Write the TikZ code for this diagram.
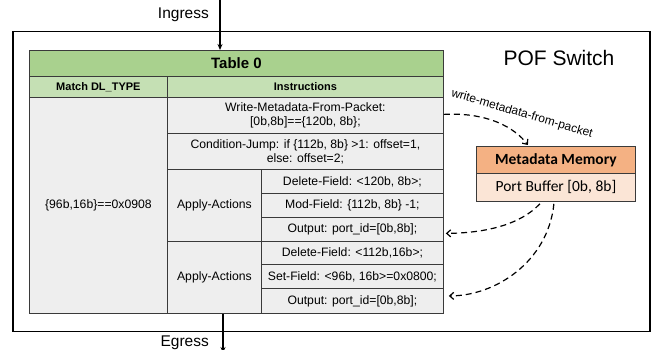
\documentclass[tikz,border=0pt]{standalone}
\usepackage{fontspec}
\setmainfont{Liberation Sans}
\newfontfamily\calibrifont{Carlito}
\usetikzlibrary{arrows.meta,calc}

\definecolor{titlegreen}{HTML}{A9D18E}
\definecolor{headgreen}{HTML}{C5E0B4}
\definecolor{cellgray}{HTML}{EEEEEE}
\definecolor{memorange}{HTML}{F4B183}
\definecolor{mempeach}{HTML}{FBE5D6}
\definecolor{gridline}{HTML}{3A3A3A}

\tikzset{
  cell/.style={draw=gridline, line width=0.8pt, fill=cellgray, anchor=north west,
    inner sep=0pt, align=center, font=\fontsize{12.2}{14}\selectfont},
  titlecell/.style={cell, fill=titlegreen, font=\fontsize{15}{17}\selectfont\bfseries},
  headcell/.style={cell, fill=headgreen, font=\fontsize{11}{13}\selectfont\bfseries},
  memhead/.style={draw=gridline, line width=0.8pt, fill=memorange, anchor=north west,
    inner sep=0pt, font=\calibrifont\fontsize{15.5}{18}\selectfont\bfseries},
  membody/.style={memhead, fill=mempeach, font=\calibrifont\fontsize{15.5}{18}\selectfont},
  flow/.style={line width=1.3pt, -{Stealth[length=6pt,width=5pt]}},
  metaflow/.style={line width=1.2pt, dash pattern=on 6pt off 4pt,
    -{Straight Barb[length=4pt,width=7pt]}},
  plain/.style={font=\fontsize{15.5}{18}\selectfont, inner sep=0pt}
}

\begin{document}
\begin{tikzpicture}[x=1pt, y=-1pt]
  \useasboundingbox (0,0) rectangle (657,350);

  % switch enclosure
  \node[draw, line width=1.5pt, minimum width=637pt, minimum height=300pt,
        anchor=north west, inner sep=0pt] (switch) at (12,31) {};
  \node[font=\fontsize{21}{24}\selectfont, inner sep=0pt] (switchlabel) at (559,58) {POF Switch};

  % flow table
  \node[titlecell, minimum width=414pt, minimum height=26pt] (title) at (29,50) {Table 0};
  \node[headcell, minimum width=138pt, minimum height=21pt] (matchhead) at (29,76) {Match DL\_TYPE};
  \node[headcell, minimum width=276pt, minimum height=21pt] (insthead) at (167,76) {Instructions};
  \node[cell, minimum width=138pt, minimum height=216pt] (match) at (29,97) {\{96b,16b\}==0x0908};

  \node[cell, minimum width=276pt, minimum height=36pt] (write) at (167,97)
    {Write-Metadata-From-Packet:\\ {[0b,8b]}==\{120b, 8b\};};
  \node[cell, minimum width=276pt, minimum height=36pt] (cond) at (167,133)
    {Condition-Jump: if \{112b, 8b\} >1: offset=1,\\ else: offset=2;};

  \node[cell, minimum width=94pt, minimum height=72pt] (apply1) at (167,169) {Apply-Actions};
  \node[cell, minimum width=182pt, minimum height=24pt] (del1) at (261,169) {Delete-Field: <120b, 8b>;};
  \node[cell, minimum width=182pt, minimum height=24pt] (mod1) at (261,193) {Mod-Field: \{112b, 8b\} -1;};
  \node[cell, minimum width=182pt, minimum height=24pt] (out1) at (261,217) {Output: port\_id=[0b,8b];};

  \node[cell, minimum width=94pt, minimum height=72pt] (apply2) at (167,241) {Apply-Actions};
  \node[cell, minimum width=182pt, minimum height=23pt] (del2) at (261,241) {Delete-Field: <112b,16b>;};
  \node[cell, minimum width=182pt, minimum height=24pt] (set2) at (261,264) {Set-Field: <96b, 16b>=0x0800;};
  \node[cell, minimum width=182pt, minimum height=25pt] (out2) at (261,288) {Output: port\_id=[0b,8b];};

  % metadata memory
  \node[memhead, minimum width=159pt, minimum height=27pt] (memhead) at (476,146) {Metadata Memory};
  \node[membody, minimum width=159pt, minimum height=28pt] (portbuf) at (476,173) {Port Buffer [0b, 8b]};

  % ingress / egress
  \coordinate (ingress) at (220,0);
  \coordinate (egress) at (223,353);
  \draw[flow] (ingress) -- (ingress |- title.north);
  \node[plain, anchor=east] (inglabel) at (209,15) {Ingress};
  \draw[flow] (egress |- match.south) -- (egress);
  \node[plain, anchor=east] (eglabel) at (209,343) {Egress};

  % metadata transfers
  \draw[metaflow] ($(write.east)+(0,-1)$) .. controls (488,112) and (515,128) .. ($(memhead.north)+(-28,-1)$);
  \node[font=\fontsize{12}{14}\selectfont, rotate=-16.5, inner sep=0pt] (metalabel) at (522,114)
    {write-metadata-from-packet};
  \draw[metaflow] ($(portbuf.south)+(-16,2)$) .. controls (520,225) and (485,233) .. ($(out1.east)+(2,4)$);
  \draw[metaflow] ($(portbuf.south)+(-2,2)$) .. controls (548,262) and (495,296) .. ($(out2.east)+(5,-5)$);
\end{tikzpicture}
\end{document}
